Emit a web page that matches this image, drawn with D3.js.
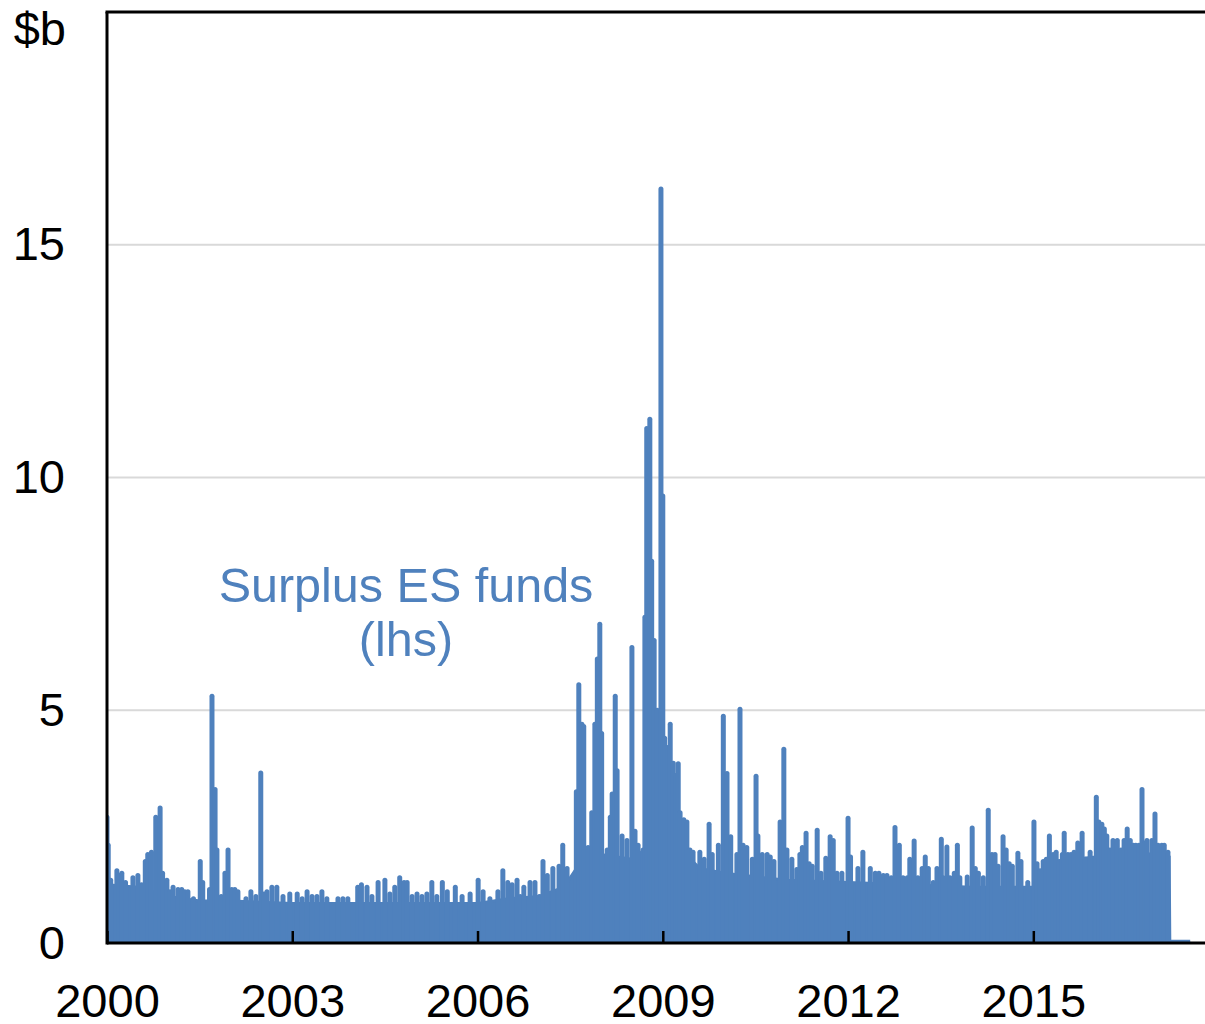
<!DOCTYPE html>
<html>
<head>
<meta charset="utf-8">
<script src="https://cdn.jsdelivr.net/npm/d3@7"></script>
<style>
  body { margin: 0; background: #fff; }
  text { font-family: "Liberation Sans", Arial, sans-serif; }
</style>
</head>
<body>
<div id="chart"></div>
<script>
// Surplus ES funds, $b

// picos da série (ano decimal, valor)
const spikeYears = [
  2000.00, 2000.02, 2000.06, 2000.16, 2000.20, 2000.24, 2000.30, 2000.42, 2000.50, 2000.56,
  2000.62, 2000.66, 2000.72, 2000.79, 2000.86, 2000.90, 2000.97, 2001.02, 2001.07, 2001.15,
  2001.21, 2001.26, 2001.31, 2001.40, 2001.51, 2001.55, 2001.66, 2001.70, 2001.75, 2001.78,
  2001.85, 2001.91, 2001.96, 2002.02, 2002.07, 2002.12, 2002.25, 2002.33, 2002.41, 2002.49,
  2002.54, 2002.59, 2002.67, 2002.75, 2002.85, 2002.96, 2003.08, 2003.16, 2003.24, 2003.32,
  2003.40, 2003.48, 2003.56, 2003.74, 2003.82, 2003.90, 2004.06, 2004.12, 2004.21, 2004.29,
  2004.39, 2004.50, 2004.58, 2004.66, 2004.74, 2004.81, 2004.86, 2004.94, 2005.02, 2005.10,
  2005.18, 2005.26, 2005.34, 2005.43, 2005.51, 2005.64, 2005.75, 2005.88, 2006.01, 2006.09,
  2006.20, 2006.33, 2006.41, 2006.49, 2006.56, 2006.64, 2006.69, 2006.75, 2006.85, 2006.93,
  2007.00, 2007.06, 2007.13, 2007.22, 2007.32, 2007.38, 2007.45, 2007.60, 2007.64, 2007.69,
  2007.72, 2007.79, 2007.85, 2007.90, 2007.94, 2007.98, 2008.01, 2008.10, 2008.15, 2008.18,
  2008.23, 2008.26, 2008.34, 2008.42, 2008.50, 2008.55, 2008.60, 2008.68, 2008.71, 2008.74,
  2008.79, 2008.82, 2008.86, 2008.91, 2008.97, 2009.00, 2009.03, 2009.08, 2009.12, 2009.17,
  2009.21, 2009.25, 2009.28, 2009.34, 2009.39, 2009.44, 2009.49, 2009.60, 2009.67, 2009.75,
  2009.80, 2009.90, 2009.98, 2010.04, 2010.10, 2010.20, 2010.25, 2010.30, 2010.36, 2010.45,
  2010.51, 2010.54, 2010.61, 2010.69, 2010.74, 2010.80, 2010.90, 2010.96, 2011.01, 2011.09,
  2011.17, 2011.22, 2011.26, 2011.32, 2011.37, 2011.42, 2011.50, 2011.56, 2011.64, 2011.71,
  2011.76, 2011.82, 2011.90, 2012.00, 2012.04, 2012.16, 2012.24, 2012.36, 2012.44, 2012.50,
  2012.57, 2012.63, 2012.70, 2012.76, 2012.83, 2012.89, 2012.96, 2013.00, 2013.07, 2013.13,
  2013.20, 2013.25, 2013.30, 2013.38, 2013.44, 2013.51, 2013.54, 2013.60, 2013.65, 2013.72,
  2013.77, 2013.81, 2013.93, 2014.01, 2014.06, 2014.11, 2014.19, 2014.27, 2014.33, 2014.38,
  2014.43, 2014.51, 2014.56, 2014.61, 2014.66, 2014.75, 2014.80, 2014.91, 2015.01, 2015.06,
  2015.11, 2015.16, 2015.21, 2015.26, 2015.32, 2015.37, 2015.42, 2015.47, 2015.50, 2015.56,
  2015.61, 2015.66, 2015.72, 2015.79, 2015.84, 2015.92, 2016.02, 2016.06, 2016.11, 2016.15,
  2016.19, 2016.24, 2016.29, 2016.36, 2016.42, 2016.47, 2016.52, 2016.57, 2016.62, 2016.66,
  2016.71, 2016.76, 2016.81, 2016.84, 2016.92, 2016.97, 2017.02, 2017.08, 2017.12, 2017.18
];
const spikeValues = [
  2.70, 2.10, 1.35, 1.55, 1.45, 1.50, 1.30, 1.40, 1.45, 1.25,
  1.75, 1.90, 1.95, 2.70, 2.90, 1.50, 1.35, 1.10, 1.20, 1.15,
  1.15, 1.10, 1.10, 0.95, 1.75, 1.30, 1.15, 5.30, 3.30, 2.00,
  1.00, 1.50, 2.00, 1.15, 1.15, 1.10, 0.95, 1.10, 1.00, 3.65,
  1.05, 1.10, 1.20, 1.20, 1.00, 1.05, 1.05, 0.95, 1.10, 1.00,
  1.00, 1.10, 0.95, 0.95, 0.95, 0.95, 1.20, 1.25, 1.20, 1.00,
  1.30, 1.35, 1.05, 1.20, 1.40, 1.30, 1.30, 1.00, 1.05, 1.00,
  1.05, 1.30, 1.00, 1.30, 1.10, 1.20, 1.00, 1.05, 1.35, 1.10,
  0.95, 1.10, 1.55, 1.30, 1.25, 1.35, 1.00, 1.20, 1.30, 1.30,
  1.00, 1.75, 1.45, 1.60, 1.65, 2.10, 1.60, 3.25, 5.55, 4.70,
  4.65, 2.05, 2.80, 4.70, 6.10, 6.85, 4.50, 2.00, 2.70, 3.20,
  5.30, 3.70, 2.30, 2.20, 6.35, 2.40, 2.10, 2.00, 7.00, 11.05,
  11.25, 8.20, 6.50, 5.00, 16.20, 9.60, 4.40, 4.20, 4.70, 3.86,
  3.60, 3.85, 2.80, 2.65, 2.60, 2.00, 1.95, 1.95, 1.80, 2.55,
  1.90, 2.10, 4.87, 3.64, 2.28, 1.90, 5.02, 2.10, 2.05, 1.80,
  3.58, 2.30, 1.90, 1.90, 1.85, 1.75, 2.60, 4.16, 2.00, 1.80,
  1.58, 1.90, 2.05, 2.36, 1.70, 1.65, 2.42, 1.50, 1.82, 2.28,
  2.20, 1.50, 1.50, 2.68, 1.85, 1.60, 1.95, 1.60, 1.50, 1.50,
  1.45, 1.45, 1.40, 2.48, 2.10, 1.40, 1.40, 1.80, 2.19, 1.40,
  1.60, 1.85, 1.60, 1.30, 1.60, 2.23, 1.40, 2.06, 1.40, 1.50,
  2.10, 1.40, 1.42, 2.47, 1.60, 1.50, 1.40, 2.85, 1.90, 1.90,
  1.65, 2.28, 2.00, 1.70, 1.65, 1.93, 1.75, 1.30, 2.60, 1.70,
  1.55, 1.75, 1.80, 2.30, 1.90, 1.95, 1.75, 1.90, 2.36, 1.90,
  1.90, 1.95, 2.15, 2.36, 1.80, 1.95, 3.13, 2.60, 2.55, 2.45,
  2.30, 2.00, 2.20, 2.20, 2.00, 2.20, 2.45, 2.20, 2.10, 2.10,
  2.10, 3.30, 2.15, 2.20, 2.20, 2.77, 2.10, 2.10, 2.10, 1.95
];

// nível de base preenchido (os valores diários oscilam muito)
const floorYears  = [2000.00, 2000.50, 2001.00, 2001.50, 2002.00, 2003.00, 2004.00, 2005.00, 2006.00, 2006.50,
                     2007.00, 2007.40, 2007.60, 2008.00, 2008.50, 2008.70, 2009.10, 2009.30, 2009.60, 2010.00,
                     2011.00, 2012.00, 2013.00, 2014.00, 2015.00, 2015.33, 2015.34, 2016.00, 2016.50, 2017.00,
                     2017.20, 2017.21, 2017.54];
const floorValues = [1.25, 1.20, 1.00, 0.90, 0.90, 0.85, 0.85, 0.85, 0.85, 0.95,
                     1.00, 1.20, 1.60, 1.90, 1.80, 2.00, 2.50, 2.00, 1.60, 1.50,
                     1.35, 1.30, 1.25, 1.20, 1.20, 1.20, 1.75, 1.85, 1.95, 1.90,
                     1.85, 0.04, 0.04];

const xTicks = [2000, 2003, 2006, 2009, 2012, 2015];
const yTicks = [0, 5, 10, 15];

const blue = "#4F81BD";
const width = 1205, height = 1024;
const mLeft = 107, mRight = 1205, mTop = 12, mBottom = 943;

const svg = d3.select("#chart")
  .append("svg")
  .attr("width", width)
  .attr("height", height);

const x = d3.scaleLinear().domain([2000, 2017.78]).range([mLeft, mRight]);
const y = d3.scaleLinear().domain([0, 20]).range([mBottom, mTop]);

// linhas de grelha
svg.selectAll("line.grid")
  .data(yTicks.filter(d => d > 0))
  .enter()
  .append("line")
  .attr("class", "grid")
  .attr("x1", mLeft).attr("x2", mRight)
  .attr("y1", d => y(d)).attr("y2", d => y(d))
  .attr("stroke", "#D9D9D9")
  .attr("stroke-width", 2);

svg.append("clipPath").attr("id", "plot")
  .append("rect")
  .attr("x", mLeft).attr("y", mTop)
  .attr("width", mRight - mLeft).attr("height", mBottom - mTop);

const plot = svg.append("g").attr("clip-path", "url(#plot)");

const floor = floorYears.map((t, i) => ({ t: t, v: floorValues[i] }));

plot.append("path")
  .datum(floor)
  .attr("d", d3.area().x(d => x(d.t)).y0(y(0)).y1(d => y(d.v)))
  .attr("fill", blue);

plot.append("path")
  .datum(floor)
  .attr("d", d3.line().x(d => x(d.t)).y(d => y(d.v)))
  .attr("fill", "none")
  .attr("stroke", blue)
  .attr("stroke-width", 3);

// picos
plot.selectAll("line.spike")
  .data(spikeYears.map((t, i) => ({ t: t, v: spikeValues[i] })))
  .enter()
  .append("line")
  .attr("class", "spike")
  .attr("x1", d => x(d.t)).attr("x2", d => x(d.t))
  .attr("y1", y(0)).attr("y2", d => y(d.v))
  .attr("stroke", blue)
  .attr("stroke-width", 5)
  .attr("stroke-linecap", "round");

// eixos
const xAxis = svg.append("g")
  .attr("transform", `translate(0,${mBottom})`)
  .call(d3.axisBottom(x).tickValues(xTicks).tickFormat(d3.format("d"))
    .tickSize(-12).tickSizeOuter(0).tickPadding(41));
xAxis.select(".domain").attr("stroke-width", 3).attr("d", `M${mLeft},0H${mRight}`);
xAxis.selectAll(".tick line").attr("stroke-width", 2.5);
xAxis.selectAll("text").attr("font-size", 47).attr("fill", "#000")
  .attr("font-family", "Liberation Sans, Arial, sans-serif");

const yAxis = svg.append("g")
  .attr("transform", `translate(${mLeft},0)`)
  .call(d3.axisLeft(y).tickValues(yTicks).tickFormat(d3.format("d"))
    .tickSize(0).tickSizeOuter(0).tickPadding(42));
yAxis.select(".domain").attr("stroke-width", 3).attr("d", `M0,${mTop}V${mBottom + 1.5}`);
yAxis.selectAll("text").attr("font-size", 47).attr("fill", "#000")
  .attr("font-family", "Liberation Sans, Arial, sans-serif");

// linha de cima
svg.append("line")
  .attr("x1", mLeft - 1.5).attr("x2", mRight)
  .attr("y1", mTop).attr("y2", mTop)
  .attr("stroke", "#000")
  .attr("stroke-width", 3);

svg.append("text")
  .attr("x", 66).attr("y", 45)
  .attr("text-anchor", "end")
  .attr("font-size", 47)
  .text("$b");

// etiqueta da série
const label = svg.append("text")
  .attr("text-anchor", "middle")
  .attr("font-size", 48.5)
  .attr("fill", blue);
label.append("tspan").attr("x", 406).attr("y", 602).text("Surplus ES funds");
label.append("tspan").attr("x", 406).attr("y", 656).text("(lhs)");
</script>
</body>
</html>
